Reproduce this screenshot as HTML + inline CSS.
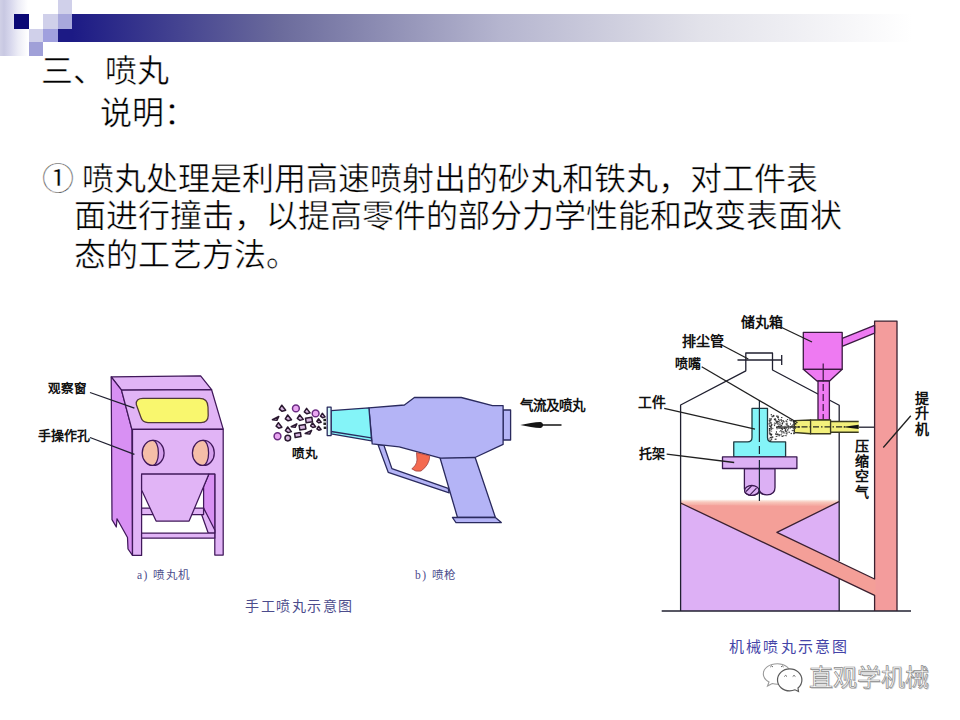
<!DOCTYPE html>
<html lang="zh-CN"><head><meta charset="utf-8">
<style>
html,body{margin:0;padding:0;background:#fff;}
body{width:960px;height:720px;position:relative;overflow:hidden;font-family:"Liberation Serif",serif;}
.a{position:absolute;}
.l{position:absolute;font-family:"Liberation Sans",sans-serif;font-weight:bold;color:#111;white-space:nowrap;line-height:1;}
.c{position:absolute;font-family:"Liberation Serif",serif;color:#4c4c8c;white-space:nowrap;line-height:1;}
.t{position:absolute;font-size:32px;-webkit-text-stroke:0.45px #fff;line-height:38px;color:#000;white-space:nowrap;}
</style></head><body>
<!-- header template -->
<div class="a" style="left:0;top:0;width:28px;height:56px;background:linear-gradient(to right,#d0d0e6 0,#c8c8e2 4px,#d6d6ec 10px,#ececf6 18px,#fff 28px);"></div>
<div class="a" style="left:72px;top:14px;width:888px;height:28px;background:linear-gradient(to right,#1c1a85 0,#6b6b9c 208px,#b5b5cf 428px,#e2e2ea 628px,#ffffff 840px);"></div>
<div class="a" style="left:58px;top:29px;width:14px;height:13px;background:#1c1a85;"></div>
<div class="a" style="left:14px;top:14px;width:15px;height:15px;background:#0a0875;"></div>
<div class="a" style="left:58px;top:0;width:14px;height:14px;background:#d0d0ea;"></div>
<div class="a" style="left:43px;top:14px;width:15px;height:15px;background:#d0d0ea;"></div>
<div class="a" style="left:58px;top:14px;width:14px;height:15px;background:#a8a8dc;"></div>
<div class="a" style="left:29px;top:29px;width:14px;height:13px;background:#d0d0ea;"></div>
<div class="a" style="left:43px;top:29px;width:15px;height:13px;background:#a0a0de;"></div>
<div class="a" style="left:29px;top:42px;width:14px;height:14px;background:#a0a0d8;"></div>

<div class="t" style="left:41px;top:51.5px;">三、喷丸</div>
<div class="t" style="left:100px;top:94px;">说明：</div>
<div class="t" style="left:42px;top:159.5px;">① 喷丸处理是利用高速喷射出的砂丸和铁丸，对工件表</div>
<div class="t" style="left:74px;top:197.2px;">面进行撞击，以提高零件的部分力学性能和改变表面状</div>
<div class="t" style="left:74px;top:236.3px;">态的工艺方法。</div>

<svg class="a" style="left:0;top:0" width="960" height="720" viewBox="0 0 960 720">
<!-- cabinet -->
<g stroke="#40185a" stroke-width="1.25" stroke-linejoin="round">
<polygon points="111.2,376.9 200.6,375.8 211.6,389.7 121.5,390.2" fill="#e1b4f6"/>
<polygon points="111.2,376.9 121.5,390.2 131.9,429.4 132.5,555.4 128,549 127.5,537.5 117,518.8 116.3,527 112,519.6" fill="#d890f3"/>
<polygon points="121.5,390.2 211.6,389.7 223.2,429.1 131.9,429.4" fill="#e1b4f6"/>
<path d="M132.5,429.4 L223.2,429.1 L223.2,555 L214.8,555 L214.8,474 L141.6,474 L141.6,555.4 L132.5,555.4 Z" fill="#e1b4f6"/>
<polygon points="208.9,474 214.8,474 214.8,532.3 203.6,509 203.6,486.6" fill="#d890f3"/>
<rect x="141.6" y="508" width="62" height="6.5" fill="#e1b4f6"/>
<polygon points="203.6,508 214.8,530 214.8,533 208.2,533 201.6,514.5 203.6,514.5" fill="#e1b4f6"/>
<rect x="141.6" y="533" width="73.2" height="5.2" fill="#e1b4f6"/>
<polygon points="141.6,474 208.9,474 189.1,521.1 156.1,521.1 141.6,490" fill="#e1b4f6"/>
<path d="M143,398.4 L199.5,398.4 Q207.8,398.4 208,407 L208.2,415.5 Q208.2,422.5 201,422.5 L148,422.5 Q142.5,422.5 141,417.5 L136.3,404.5 Q135.5,398.4 143,398.4 Z" fill="#f9f76e" stroke="#503838"/>
<ellipse cx="153.5" cy="452.9" rx="10.6" ry="12.5" fill="#d6a0ee"/>
<path d="M152.8,440.4 A10.6,12.5 0 0 0 152.8,465.4 A5.6,12.5 0 0 0 152.8,440.4 Z" fill="#f5bea8"/>
<ellipse cx="203.7" cy="452.9" rx="10.6" ry="12.5" fill="#d6a0ee"/>
<path d="M203,440.4 A10.6,12.5 0 0 0 203,465.4 A5.6,12.5 0 0 0 203,440.4 Z" fill="#f5bea8"/>
</g>
<g stroke="#202030" stroke-width="1.3" fill="none">
<line x1="90" y1="392.5" x2="134.4" y2="408.1"/>
<line x1="90" y1="437.5" x2="134.4" y2="454.4"/>
</g>
<!-- gun -->
<g stroke="#2a2a5e" stroke-width="1.3" stroke-linejoin="round">
<polygon points="378,444.6 388.2,472.3 449.2,492.9 448.2,488.3 391.9,468.6 383.9,445.3" fill="#b4b4f6"/>
<polygon points="440,457.7 475,457 495.4,517.5 457.5,517.5" fill="#b4b4f6"/>
<polygon points="452.4,517.5 495.4,517.5 501.3,522.6 456,522.6" fill="#b4b4f6"/>
<rect x="503.1" y="410" width="7.5" height="30" fill="#b4b4f6"/>
<polygon points="368.9,407.8 404.4,405 414.4,397.5 461.3,397.5 492.5,405.6 503.1,405.6 503.1,444.4 475,457.5 440.6,458.1 399.2,446.8 372.2,443.9" fill="#b4b4f6"/>
<polygon points="331.1,410.6 368.9,407.8 371.6,440.8 331.1,433.9" fill="#84f4f8"/>
<line x1="331.1" y1="431.5" x2="371.3" y2="437.8"/>
<rect x="327.2" y="407.2" width="3.9" height="28.4" fill="#d8fafa"/>
</g>
<path d="M416.5,452.6 L429.8,455.8 Q429.5,465 421,471 Q415.5,472.2 411.8,468.8 Q416.5,465.5 417,460 Z" fill="#f46a50" stroke="#a04040" stroke-width="0.8"/>
<path d="M520.3,425 C527,423.5 535,422.2 540.5,422 Q542.5,422.2 543,424.3 L561.5,424.3 L561.5,425.7 L543,425.7 Q542.5,427.8 540.5,428 C535,427.8 527,426.5 520.3,425 Z" fill="#151515"/>
<!-- spray -->
<circle cx="295.9" cy="408.4" r="3.4" fill="#eaa6f2" stroke="#6a2c82" stroke-width="1.5"/>
<circle cx="315.6" cy="413.4" r="3.4" fill="#eaa6f2" stroke="#6a2c82" stroke-width="1.5"/>
<circle cx="277.5" cy="436.25" r="3.4" fill="#eaa6f2" stroke="#6a2c82" stroke-width="1.5"/>
<polygon points="279.3,409.1 281.8,405.2 285.7,410.2 282.1,411.3" fill="#d8b8e0" stroke="#2a1830" stroke-width="1.5" stroke-linejoin="round"/>
<polygon points="304.3,411.9 306.6,408.4 310.1,412.9 306.9,413.8" fill="#d8b8e0" stroke="#2a1830" stroke-width="1.5" stroke-linejoin="round"/>
<polygon points="272.4,419.7 278.8,416.5 276.9,420.3" fill="#d8b8e0" stroke="#2a1830" stroke-width="1.5" stroke-linejoin="round"/>
<polygon points="285.3,418.8 287.7,415.0 291.5,419.8 288.1,420.8" fill="#d8b8e0" stroke="#2a1830" stroke-width="1.5" stroke-linejoin="round"/>
<polygon points="297.3,418.5 299.6,414.8 303.3,419.4 300.0,420.4" fill="#d8b8e0" stroke="#2a1830" stroke-width="1.5" stroke-linejoin="round"/>
<polygon points="305.5,418.2 311.8,417.2 312.5,421.8 306.2,422.8" fill="#d8b8e0" stroke="#2a1830" stroke-width="1.5" stroke-linejoin="round"/>
<polygon points="320.5,416.1 322.3,413.3 325.1,416.9 322.5,417.7" fill="#d8b8e0" stroke="#2a1830" stroke-width="1.5" stroke-linejoin="round"/>
<polygon points="316.8,421.5 318.5,418.8 321.2,422.2 318.8,422.9" fill="#d8b8e0" stroke="#2a1830" stroke-width="1.5" stroke-linejoin="round"/>
<polygon points="276.1,426.2 278.4,422.7 281.9,427.2 278.7,428.2" fill="#d8b8e0" stroke="#2a1830" stroke-width="1.5" stroke-linejoin="round"/>
<polygon points="291.2,426.7 296.8,423.9 295.1,427.3" fill="#d8b8e0" stroke="#2a1830" stroke-width="1.5" stroke-linejoin="round"/>
<polygon points="299.1,425.5 305.2,424.5 305.9,428.9 299.8,429.9" fill="#d8b8e0" stroke="#2a1830" stroke-width="1.5" stroke-linejoin="round"/>
<polygon points="310.6,425.9 312.5,422.8 315.6,426.7 312.8,427.5" fill="#d8b8e0" stroke="#2a1830" stroke-width="1.5" stroke-linejoin="round"/>
<polygon points="285.4,430.7 287.7,427.0 291.4,431.6 288.1,432.6" fill="#d8b8e0" stroke="#2a1830" stroke-width="1.5" stroke-linejoin="round"/>
<polygon points="305.2,433.5 311.6,430.3 309.7,434.1" fill="#d8b8e0" stroke="#2a1830" stroke-width="1.5" stroke-linejoin="round"/>
<polygon points="294.6,433.4 300.4,432.4 301.0,436.6 295.2,437.6" fill="#d8b8e0" stroke="#2a1830" stroke-width="1.5" stroke-linejoin="round"/>
<circle cx="287.8" cy="438.1" r="2.8" fill="#d8b8e0" stroke="#2a1830" stroke-width="1.5"/>
<polygon points="316.9,428.9 318.5,426.3 321.1,429.5 318.8,430.2" fill="#d8b8e0" stroke="#2a1830" stroke-width="1.5" stroke-linejoin="round"/>
<rect x="323.4" y="418.8" width="2.6" height="2.4" fill="#222"/>
<rect x="323.4" y="422.55" width="2.6" height="2.4" fill="#222"/>
<rect x="323.7" y="426.6" width="2.6" height="2.4" fill="#222"/>
<!-- machine -->
<defs><linearGradient id="pk" x1="0" y1="0" x2="0" y2="1"><stop offset="0" stop-color="#fcf2ec"/><stop offset="0.35" stop-color="#f8c8bc"/><stop offset="1" stop-color="#f49f98"/></linearGradient></defs>
<rect x="680.6" y="501.7" width="158.4" height="109.3" fill="#ddb0f5"/>
<rect x="874.6" y="321.1" width="22.4" height="289.9" fill="#f39c9c"/>
<polygon points="680.6,501.2 839,501.2 776.9,532.3 875.5,579.4 875.5,595.8 680.6,503" fill="#f49f98"/>
<polygon points="681,499.8 838.5,499.8 838.5,502 829,506.5 681,505" fill="url(#pk)"/>
<g stroke="#202030" stroke-width="1.3" fill="none" stroke-linejoin="round">
<polyline points="680.6,611 680.6,405 745.8,370.8 745.8,353 772.5,353 772.5,370 839.2,405.3 839.2,561"/>
<line x1="839.2" y1="578.5" x2="839.2" y2="611"/>
<line x1="661.7" y1="611" x2="911" y2="611"/>
<line x1="737.5" y1="360" x2="781.7" y2="360"/>
<line x1="781.7" y1="355" x2="781.7" y2="365"/>
<line x1="858.7" y1="427.2" x2="874.6" y2="427.2"/>
</g>
<g stroke="#3a2030" stroke-width="1.3" fill="none" stroke-linejoin="round">
<polyline points="839,501.7 776.9,532.3 874.6,579 874.6,321.1 897,321.1 897,611"/>
<polyline points="680.6,503 874.6,595.4 874.6,611"/>
</g>
<g stroke="#3a1a40" stroke-width="1.3" stroke-linejoin="round">
<polygon points="842.2,338.4 874.6,325.4 874.6,333.2 842.2,346.3" fill="#ee7af2"/>
<rect x="803.3" y="332.4" width="38.9" height="36.9" fill="#ee7af2"/>
<polygon points="803.3,369.3 842.2,369.3 829.6,381 817,381" fill="#ee7af2"/>
<rect x="818" y="381" width="11.4" height="39" fill="#ee7af2"/>
</g>
<path d="M823.2,363.4 V381.5 M823.2,384 V391 M823.2,394 V401 M823.2,404 V411 M823.2,414 V424.7" stroke="#3a1a40" stroke-width="1.2"/>
<g stroke="#3a3a20" stroke-width="1.3" stroke-linejoin="round">
<polygon points="794.4,420.6 810.6,420 810.6,433.75 794.4,432.5" fill="#f3f07c"/>
<rect x="810.6" y="420" width="20" height="13.75" fill="#f3f07c"/>
<rect x="830.6" y="421.5" width="28.1" height="10.75" fill="#f3f07c" stroke="none"/><polyline points="858.7,421.5 830.6,421.5 830.6,432.25 858.7,432.25" fill="none"/>
</g>
<line x1="790" y1="426.9" x2="845" y2="426.9" stroke="#2a2a20" stroke-width="1.1" stroke-dasharray="6,2,1.5,2"/>
<polygon points="842,426.9 858.7,424.8 858.7,429" fill="#111"/>
<line x1="776" y1="427" x2="800" y2="427" stroke="#222" stroke-width="1.1"/>
<g stroke="#1e3a40" stroke-width="1.3" stroke-linejoin="round">
<path d="M752,408.4 L767.5,408.4 L767.5,437.5 Q767.5,441.9 772,441.9 L785.6,441.9 L785.6,456.9 L733.75,456.9 L733.75,441.9 L747.5,441.9 Q752,441.9 752,437.5 Z" fill="#84f4f8"/>
</g>
<g stroke="#3a1a50" stroke-width="1.3" stroke-linejoin="round">
<path d="M744.4,468.5 L744.4,488.5 Q744.4,495.3 751.9,495.3 Q758.6,495.3 759.4,490.5 Q760.5,494.8 767,494.8 Q775,494.8 775,487.5 L775,468.5 Z" fill="#dcb0f4"/>
<rect x="722.5" y="456.9" width="74.4" height="11.6" fill="#dcb0f4"/>
<ellipse cx="751.8" cy="490.4" rx="7.2" ry="4.9" fill="#dcb0f4"/>
<line x1="746" y1="491.5" x2="751.5" y2="486" stroke-width="1.1"/>
<line x1="750" y1="494.8" x2="756.5" y2="488.2" stroke-width="1.1"/>
</g>
<path d="M759.4,400 V442 M759.4,446 V454 M759.4,460 V501" stroke="#1a2a38" stroke-width="1.2"/>
<g stroke="#202020" stroke-width="1.3">
<line x1="781.7" y1="327.5" x2="812" y2="342"/>
<line x1="721.7" y1="345" x2="748.3" y2="359"/>
<line x1="701.7" y1="366.7" x2="797.5" y2="422.8"/>
<line x1="664.2" y1="408.3" x2="755" y2="429.2"/>
<line x1="666.7" y1="454.2" x2="734.2" y2="462.5"/>
<line x1="910.8" y1="415.8" x2="883.3" y2="447.5"/>
</g>
<g><rect x="777.1" y="415.7" width="1.4" height="1.0" fill="#222"/><rect x="770.9" y="424.2" width="1.6" height="1.0" fill="#333"/><rect x="785.2" y="429.1" width="0.9" height="1.3" fill="#222"/><rect x="791.2" y="420.0" width="1.0" height="1.0" fill="#444"/><rect x="783.3" y="432.1" width="1.0" height="1.3" fill="#333"/><rect x="778.4" y="428.0" width="1.0" height="0.9" fill="#333"/><rect x="781.7" y="427.5" width="1.5" height="1.2" fill="#555"/><rect x="778.1" y="418.7" width="1.0" height="1.4" fill="#222"/><rect x="783.7" y="427.3" width="1.6" height="1.4" fill="#444"/><rect x="770.6" y="428.3" width="1.5" height="1.5" fill="#444"/><rect x="786.9" y="429.4" width="1.4" height="1.2" fill="#222"/><rect x="793.5" y="425.7" width="1.4" height="0.9" fill="#444"/><rect x="790.3" y="419.8" width="1.2" height="1.4" fill="#222"/><rect x="793.4" y="422.0" width="1.4" height="1.2" fill="#333"/><rect x="775.1" y="423.1" width="1.6" height="1.0" fill="#555"/><rect x="779.1" y="419.6" width="1.0" height="1.2" fill="#444"/><rect x="786.6" y="422.8" width="1.1" height="1.0" fill="#333"/><rect x="774.6" y="418.2" width="1.3" height="1.3" fill="#444"/><rect x="776.0" y="415.5" width="1.3" height="1.3" fill="#444"/><rect x="793.8" y="432.4" width="1.3" height="1.3" fill="#222"/><rect x="793.7" y="432.1" width="1.3" height="1.2" fill="#555"/><rect x="771.2" y="430.7" width="0.9" height="0.9" fill="#333"/><rect x="783.5" y="427.6" width="1.7" height="1.3" fill="#222"/><rect x="791.7" y="430.0" width="1.0" height="1.1" fill="#444"/><rect x="784.5" y="425.7" width="1.0" height="1.2" fill="#555"/><rect x="781.2" y="420.7" width="1.0" height="1.4" fill="#444"/><rect x="781.2" y="432.5" width="1.3" height="1.0" fill="#444"/><rect x="772.4" y="427.8" width="0.9" height="1.3" fill="#222"/><rect x="786.9" y="419.1" width="1.2" height="1.0" fill="#333"/><rect x="782.6" y="435.2" width="1.2" height="1.1" fill="#333"/><rect x="782.2" y="422.0" width="0.9" height="0.9" fill="#444"/><rect x="781.0" y="417.0" width="1.4" height="1.1" fill="#444"/><rect x="793.8" y="422.3" width="1.1" height="1.1" fill="#333"/><rect x="777.5" y="426.0" width="1.7" height="1.3" fill="#222"/><rect x="781.2" y="431.2" width="1.5" height="1.0" fill="#222"/><rect x="788.4" y="425.8" width="1.0" height="1.5" fill="#444"/><rect x="787.6" y="425.4" width="1.5" height="1.0" fill="#333"/><rect x="773.0" y="414.9" width="1.0" height="1.5" fill="#333"/><rect x="784.7" y="429.5" width="1.3" height="1.6" fill="#333"/><rect x="785.7" y="427.3" width="1.6" height="1.2" fill="#333"/><rect x="775.2" y="420.1" width="1.1" height="1.3" fill="#444"/><rect x="770.1" y="433.9" width="1.6" height="1.4" fill="#555"/><rect x="772.0" y="415.7" width="1.3" height="1.5" fill="#333"/><rect x="784.6" y="435.1" width="1.0" height="1.0" fill="#222"/><rect x="783.2" y="421.1" width="1.3" height="1.3" fill="#222"/><rect x="771.1" y="425.0" width="0.9" height="1.5" fill="#222"/><rect x="780.2" y="430.0" width="1.3" height="1.3" fill="#444"/><rect x="780.5" y="427.5" width="1.3" height="1.6" fill="#444"/><rect x="773.9" y="424.9" width="1.2" height="1.2" fill="#444"/><rect x="770.4" y="418.5" width="1.0" height="1.4" fill="#222"/><rect x="787.5" y="431.5" width="1.0" height="1.5" fill="#555"/><rect x="779.1" y="426.1" width="1.7" height="1.5" fill="#333"/><rect x="779.2" y="424.1" width="1.2" height="1.0" fill="#444"/><rect x="769.0" y="428.2" width="1.3" height="0.9" fill="#444"/><rect x="782.2" y="420.2" width="1.7" height="1.0" fill="#333"/><rect x="789.1" y="419.4" width="1.0" height="1.2" fill="#444"/><rect x="779.3" y="427.6" width="1.3" height="1.2" fill="#444"/><rect x="786.7" y="424.2" width="1.0" height="1.6" fill="#222"/><rect x="791.4" y="425.1" width="1.2" height="1.3" fill="#444"/><rect x="785.2" y="427.5" width="1.1" height="1.2" fill="#333"/><rect x="775.7" y="435.9" width="1.7" height="0.9" fill="#222"/><rect x="787.9" y="428.1" width="1.1" height="1.2" fill="#555"/><rect x="771.3" y="436.4" width="1.2" height="1.2" fill="#555"/><rect x="794.2" y="420.5" width="1.1" height="1.1" fill="#333"/><rect x="790.6" y="432.9" width="1.4" height="1.2" fill="#444"/><rect x="768.9" y="430.4" width="1.6" height="1.2" fill="#222"/><rect x="770.7" y="437.1" width="1.6" height="1.4" fill="#444"/><rect x="784.4" y="432.5" width="0.9" height="1.0" fill="#444"/><rect x="780.3" y="419.2" width="1.7" height="1.6" fill="#444"/><rect x="776.7" y="422.1" width="0.9" height="1.2" fill="#555"/><rect x="775.9" y="431.3" width="1.1" height="1.4" fill="#222"/><rect x="769.1" y="420.4" width="1.1" height="1.3" fill="#333"/><rect x="785.9" y="433.2" width="1.6" height="1.2" fill="#444"/><rect x="787.6" y="426.3" width="1.1" height="1.3" fill="#333"/><rect x="769.7" y="436.9" width="1.6" height="1.3" fill="#333"/><rect x="768.9" y="432.3" width="1.5" height="1.4" fill="#333"/><rect x="778.5" y="425.0" width="0.9" height="0.9" fill="#333"/><rect x="781.8" y="427.6" width="1.4" height="0.9" fill="#555"/><rect x="775.5" y="433.6" width="1.1" height="1.4" fill="#555"/><rect x="781.6" y="422.9" width="1.3" height="1.4" fill="#222"/><rect x="784.8" y="430.9" width="1.0" height="1.0" fill="#444"/><rect x="785.8" y="432.5" width="1.4" height="1.0" fill="#555"/><rect x="770.1" y="419.3" width="1.4" height="1.4" fill="#555"/><rect x="776.2" y="427.0" width="1.3" height="1.2" fill="#222"/><rect x="794.8" y="428.0" width="1.1" height="1.0" fill="#555"/><rect x="769.0" y="425.2" width="1.6" height="1.6" fill="#555"/><rect x="794.8" y="423.0" width="1.6" height="1.6" fill="#222"/><rect x="772.0" y="436.4" width="1.3" height="1.5" fill="#444"/><rect x="774.6" y="438.8" width="1.3" height="0.9" fill="#222"/><rect x="793.7" y="432.1" width="1.2" height="1.4" fill="#555"/><rect x="777.6" y="420.8" width="1.6" height="0.9" fill="#444"/><rect x="793.0" y="433.1" width="1.6" height="1.1" fill="#444"/><rect x="770.2" y="423.1" width="1.6" height="1.0" fill="#555"/><rect x="786.0" y="430.7" width="1.0" height="1.6" fill="#555"/><rect x="793.4" y="428.0" width="1.5" height="0.9" fill="#555"/><rect x="780.4" y="434.3" width="1.4" height="1.1" fill="#222"/><rect x="792.7" y="428.1" width="1.0" height="1.2" fill="#444"/><rect x="776.4" y="433.9" width="1.7" height="1.1" fill="#333"/><rect x="776.5" y="428.3" width="1.2" height="1.0" fill="#333"/><rect x="770.5" y="426.5" width="1.5" height="1.3" fill="#555"/><rect x="774.8" y="419.0" width="1.4" height="1.5" fill="#555"/><rect x="778.6" y="434.1" width="1.1" height="1.1" fill="#222"/><rect x="781.7" y="428.8" width="1.2" height="1.4" fill="#333"/><rect x="771.0" y="438.8" width="1.2" height="1.4" fill="#555"/><rect x="769.4" y="433.0" width="1.6" height="1.2" fill="#555"/><rect x="768.5" y="423.1" width="1.6" height="1.5" fill="#555"/><rect x="771.4" y="415.8" width="1.3" height="1.4" fill="#555"/><rect x="770.8" y="435.1" width="0.9" height="1.0" fill="#222"/><rect x="785.6" y="420.4" width="1.0" height="1.1" fill="#555"/><rect x="770.4" y="427.3" width="1.4" height="1.2" fill="#333"/><rect x="775.9" y="420.8" width="1.6" height="1.1" fill="#333"/><rect x="779.4" y="431.1" width="0.9" height="1.0" fill="#555"/><rect x="770.6" y="418.1" width="1.2" height="1.2" fill="#555"/><rect x="769.4" y="421.5" width="1.2" height="1.4" fill="#333"/><rect x="768.7" y="420.1" width="1.6" height="0.9" fill="#555"/><rect x="794.2" y="420.7" width="1.6" height="1.1" fill="#333"/><rect x="775.5" y="438.6" width="1.0" height="1.3" fill="#333"/><rect x="792.3" y="426.0" width="1.6" height="0.9" fill="#333"/><rect x="769.1" y="429.5" width="1.2" height="1.4" fill="#333"/><rect x="777.2" y="416.8" width="1.6" height="1.4" fill="#222"/><rect x="776.8" y="433.5" width="1.6" height="1.6" fill="#555"/><rect x="775.9" y="421.9" width="1.7" height="1.0" fill="#333"/><rect x="778.6" y="434.8" width="1.1" height="1.5" fill="#222"/><rect x="769.8" y="425.7" width="1.2" height="1.5" fill="#333"/><rect x="777.1" y="433.9" width="1.3" height="1.3" fill="#333"/><rect x="770.2" y="439.5" width="1.1" height="1.4" fill="#444"/><rect x="778.1" y="421.4" width="1.7" height="0.9" fill="#444"/><rect x="793.0" y="420.2" width="1.5" height="1.3" fill="#222"/><rect x="769.1" y="418.2" width="1.3" height="1.6" fill="#555"/><rect x="793.2" y="420.4" width="1.5" height="1.0" fill="#333"/><rect x="777.2" y="420.9" width="1.2" height="1.4" fill="#222"/><rect x="782.1" y="423.1" width="1.0" height="1.2" fill="#222"/><rect x="781.3" y="427.9" width="1.0" height="1.2" fill="#222"/><rect x="770.7" y="414.0" width="1.3" height="1.4" fill="#555"/><rect x="773.1" y="415.1" width="1.3" height="1.5" fill="#333"/><rect x="790.8" y="420.1" width="1.4" height="1.2" fill="#444"/><rect x="773.8" y="418.7" width="1.1" height="1.0" fill="#333"/><rect x="777.1" y="423.3" width="1.7" height="1.3" fill="#333"/><rect x="768.6" y="438.4" width="1.1" height="1.2" fill="#444"/><rect x="769.6" y="420.1" width="1.0" height="1.0" fill="#333"/><rect x="793.1" y="422.5" width="1.6" height="1.2" fill="#444"/><rect x="789.0" y="431.6" width="0.9" height="1.3" fill="#444"/><rect x="774.3" y="422.4" width="1.0" height="1.0" fill="#444"/><rect x="769.5" y="433.7" width="1.6" height="1.5" fill="#444"/><rect x="779.3" y="422.5" width="1.4" height="1.0" fill="#222"/><rect x="789.6" y="428.0" width="1.0" height="1.0" fill="#555"/><rect x="782.7" y="431.2" width="1.2" height="1.1" fill="#444"/><rect x="786.2" y="424.0" width="0.9" height="1.4" fill="#444"/><rect x="785.6" y="423.1" width="1.2" height="1.6" fill="#555"/><rect x="792.4" y="424.1" width="1.6" height="1.2" fill="#444"/><rect x="768.9" y="428.1" width="1.4" height="1.5" fill="#222"/><rect x="777.7" y="416.0" width="1.0" height="0.9" fill="#555"/><rect x="781.5" y="435.9" width="1.7" height="1.0" fill="#333"/><rect x="792.7" y="420.8" width="1.4" height="1.3" fill="#222"/><rect x="792.5" y="430.2" width="1.6" height="1.0" fill="#333"/><rect x="785.0" y="430.1" width="1.1" height="1.2" fill="#333"/><rect x="769.6" y="440.1" width="1.0" height="1.2" fill="#333"/><rect x="775.0" y="433.5" width="1.6" height="0.9" fill="#222"/><rect x="786.2" y="421.1" width="1.2" height="1.2" fill="#444"/><rect x="785.7" y="420.6" width="1.1" height="1.2" fill="#444"/><rect x="780.3" y="424.6" width="0.9" height="1.3" fill="#555"/><rect x="780.8" y="424.9" width="1.4" height="1.5" fill="#333"/><rect x="790.0" y="423.4" width="1.0" height="1.2" fill="#444"/><rect x="770.9" y="424.7" width="1.3" height="0.9" fill="#333"/><rect x="770.7" y="433.7" width="1.5" height="1.3" fill="#222"/><rect x="785.8" y="435.3" width="0.9" height="0.9" fill="#222"/><rect x="770.2" y="421.9" width="1.5" height="1.0" fill="#444"/><rect x="792.5" y="425.1" width="1.1" height="1.6" fill="#555"/><rect x="774.0" y="419.1" width="1.3" height="1.1" fill="#222"/><rect x="773.8" y="423.5" width="1.4" height="1.1" fill="#444"/></g>
</svg>

<div class="l" style="left:48px;top:382.5px;font-size:12.5px;">观察窗</div>
<div class="l" style="left:37.5px;top:428.5px;font-size:13px;">手操作孔</div>
<div class="l" style="left:292px;top:447.5px;font-size:12.5px;">喷丸</div>
<div class="l" style="left:520px;top:399px;font-size:13.5px;">气流及喷丸</div>
<div class="l" style="left:741px;top:316px;font-size:13.9px;">储丸箱</div>
<div class="l" style="left:682px;top:334px;font-size:14px;">排尘管</div>
<div class="l" style="left:675px;top:357px;font-size:13px;">喷嘴</div>
<div class="l" style="left:638px;top:395.5px;font-size:13.8px;">工件</div>
<div class="l" style="left:639px;top:446.5px;font-size:13px;">托架</div>
<div class="l" style="left:915px;top:390.5px;font-size:14px;width:15px;line-height:15.8px;white-space:normal;">提升机</div>
<div class="l" style="left:855px;top:439px;font-size:14px;width:15px;line-height:15.2px;white-space:normal;">压缩空气</div>
<div class="c" style="left:137px;top:570px;font-size:11.5px;letter-spacing:1.5px;">a) 喷丸机</div>
<div class="c" style="left:415px;top:570px;font-size:11.5px;letter-spacing:1.5px;">b) 喷枪</div>
<div class="c" style="left:245px;top:599.5px;font-size:14px;letter-spacing:1.5px;">手工喷丸示意图</div>
<div class="c" style="left:729px;top:640px;font-size:15px;letter-spacing:2.2px;color:#4444a8;">机械喷丸示意图</div>
<svg class="a" style="left:755px;top:655px" width="50" height="45" viewBox="755 655 50 45">
<path d="M777.5,663.7 C785,663.7 790.5,668 790.5,674 C790.5,680 785,684.3 777.5,684.3 C775.5,684.3 773.8,684 772.2,683.5 L767.5,686 L769,682 C765.5,680 763.3,677.2 763.3,674 C763.3,668 769.5,663.7 777.5,663.7 Z" fill="#fff" stroke="#9a9a9a" stroke-width="1.1"/>
<path d="M789.7,668.8 C796.5,668.8 801.9,673.8 801.9,680 C801.9,683.2 800.4,686 798,688 L798.5,691.5 L795,689.8 C793.4,690.5 791.6,690.9 789.7,690.9 C782.9,690.9 777.5,686 777.5,680 C777.5,673.8 782.9,668.8 789.7,668.8 Z" fill="#fff" stroke="#5a5a5a" stroke-width="1.2"/>
<g fill="none" stroke="#666" stroke-width="1"><path d="M770.3,667 Q771.6,664.8 773,667"/><path d="M781,667 Q782.3,664.8 783.6,667"/><path d="M784.3,676.5 Q785.6,674.3 787,676.5"/><path d="M792.7,676.5 Q794,674.3 795.4,676.5"/></g>
</svg>
<div class="a" style="left:809px;top:665.5px;font-family:'Liberation Sans',sans-serif;font-size:24px;font-weight:300;line-height:1;color:#fdfdfd;-webkit-text-stroke:0.7px #8a8a8a;text-shadow:0.8px 0.8px 0 #d0d0d0;white-space:nowrap;letter-spacing:0px;">直观学机械</div>
</body></html>
